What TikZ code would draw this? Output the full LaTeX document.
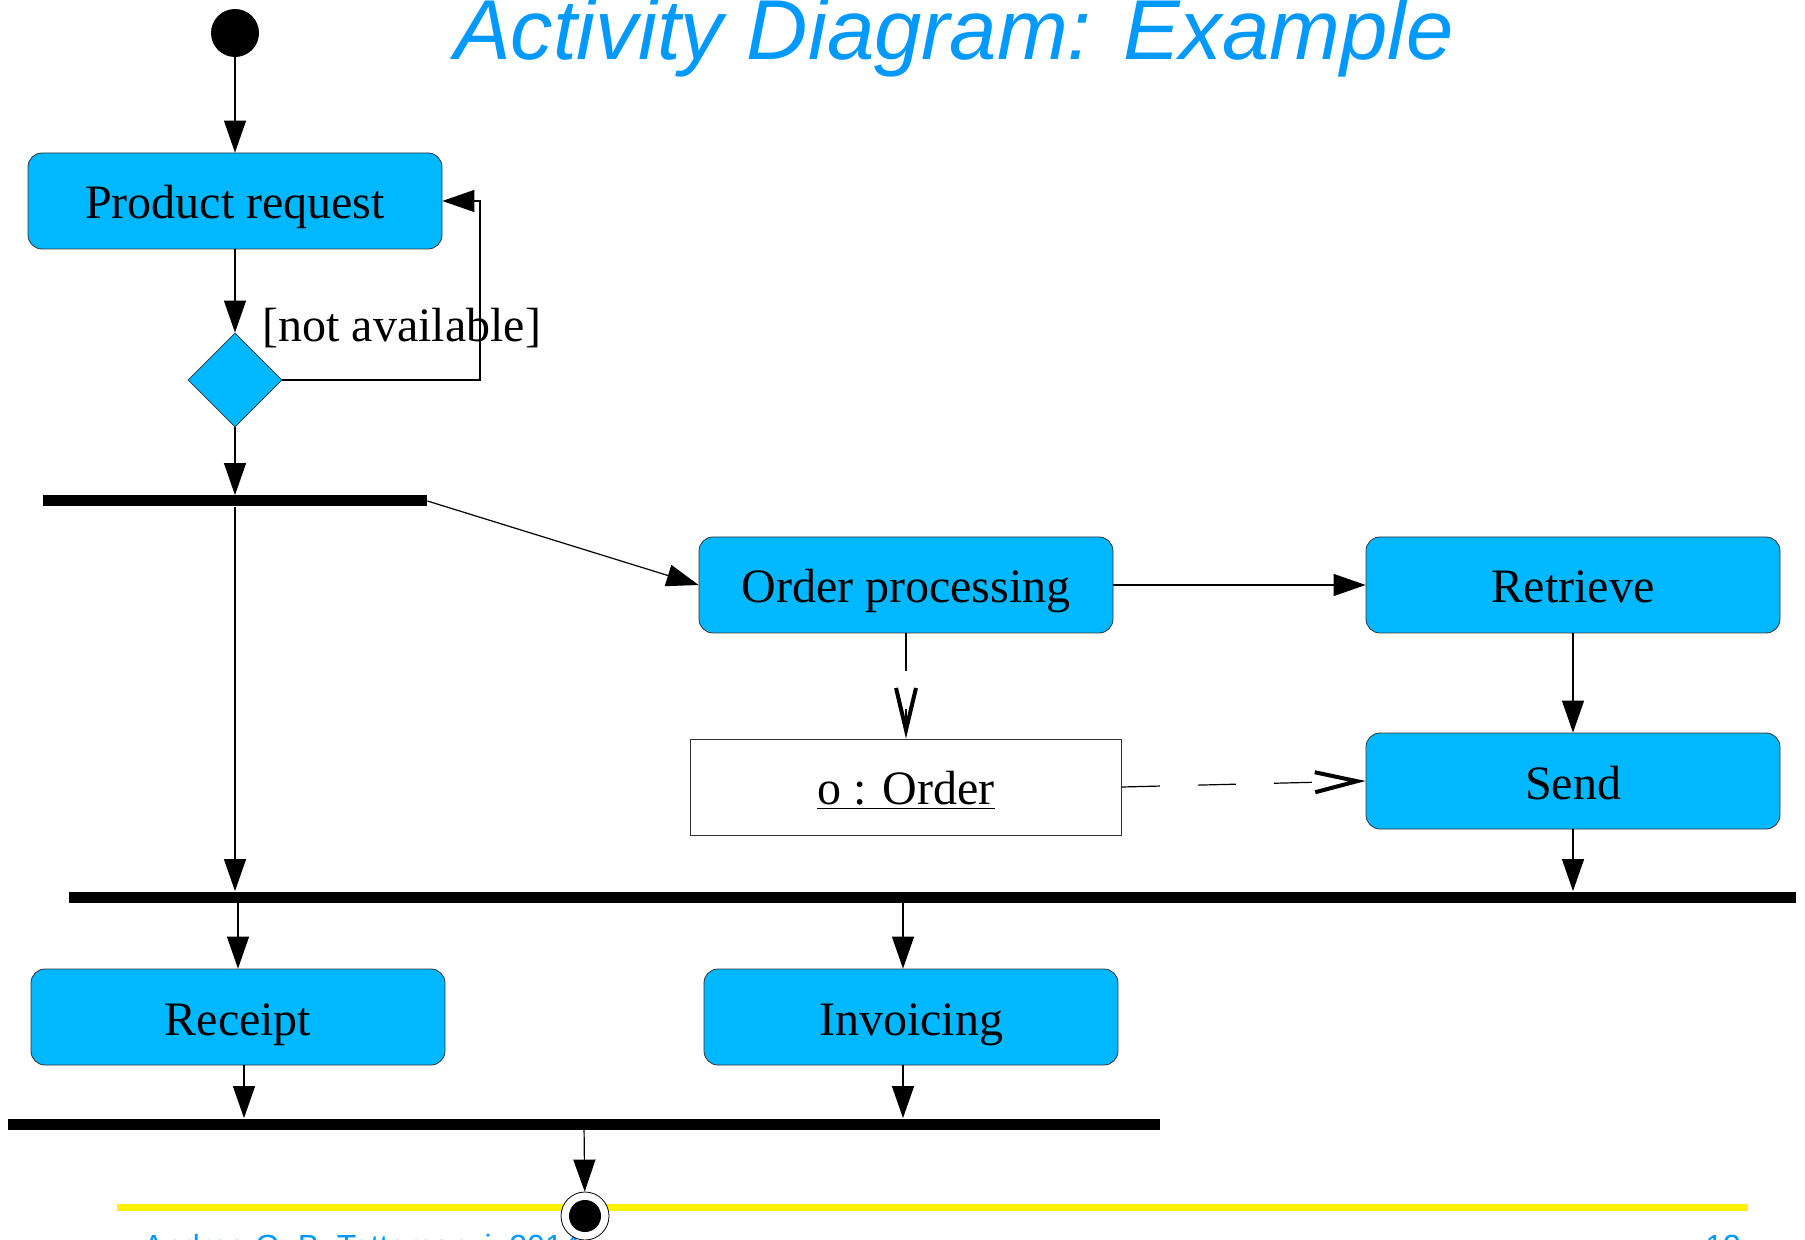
\documentclass[tikz,border=0pt]{standalone}
\usepackage{xcolor}
\usepackage{fontspec}
\setmainfont{Liberation Serif}
\newfontfamily\slidefont{Liberation Sans}
\definecolor{actblue}{RGB}{0,184,255}
\definecolor{slideblue}{RGB}{0,153,255}
\usepackage{tikz}
\usetikzlibrary{shapes.geometric}
\usetikzlibrary{arrows.meta}
\tikzset{
  activity/.style={draw=black!80,fill=actblue,rounded corners=7pt,minimum width=207pt,minimum height=48pt,text height=18pt,text depth=0pt,font=\fontsize{24}{28}\selectfont},
  objnode/.style={draw=black!80,fill=white,minimum width=215.5pt,minimum height=48pt,text height=18pt,text depth=0pt,font=\fontsize{24}{28}\selectfont},
  syncbar/.style={fill=black,inner sep=0pt,minimum height=5.5pt},
  flow/.style={line width=0.6pt,-{Triangle[length=16pt,width=11pt]}},
  objflow/.style={line width=0.6pt,dash pattern=on 19pt off 19pt,-{Straight Barb[length=21pt,width=10pt,line width=2pt]}}
}

\begin{document}
\begin{tikzpicture}[x=0.5pt,y=-0.5pt]
\useasboundingbox (0,0) rectangle (1805,1240);
\clip (0,0) rectangle (1805,1240);
\node (title) at (954,60) [anchor=base,text=slideblue,font=\slidefont\itshape\fontsize{42.5}{50}\selectfont]{Activity Diagram: Example};
\draw[yellow,line width=3.5pt] (117,1207) -- (1748,1207);
\node (author) at (136,1257) [anchor=base west,text=slideblue,font=\slidefont\fontsize{16}{19}\selectfont]{Andrea G. B. Tettamanzi, 2014};
\node (pagenum) at (1748,1257) [anchor=base east,text=slideblue,font=\slidefont\fontsize{16}{19}\selectfont]{13};

\node (start) at (235,33) [circle,fill=black,minimum size=24pt,inner sep=0pt]{};
\node (prodreq) at (235,201) [activity]{Product request};
\node (check) at (235,380) [diamond,draw=black!80,fill=actblue,minimum width=47pt,minimum height=47pt,inner sep=0pt]{};
\node (guard) at (262,342) [anchor=base west,inner sep=0pt,font=\fontsize{24}{28}\selectfont]{[not available]};
\coordinate (loop) at (480,201);
\node (fork1) at (235,501) [syncbar,minimum width=192pt]{};
\node (orderproc) at (906,585) [activity]{Order processing};
\node (retrieve) at (1573,585) [activity]{Retrieve};
\node (order) at (906,787) [objnode]{\underline{o : Order}};
\node (send) at (1573,781) [activity]{Send};
\node (fork2) at (932,897) [syncbar,minimum width=863.5pt]{};
\node (receipt) at (238,1017) [activity]{Receipt};
\node (invoicing) at (911,1017) [activity]{Invoicing};
\node (join) at (584,1124) [syncbar,minimum width=576pt]{};
\node (final) at (585,1216) [circle,draw,fill=white,minimum size=24pt,inner sep=0pt]{};
\node (finaldot) at (final) [circle,fill=black,minimum size=16pt,inner sep=0pt]{};

\draw[flow] (start) -- (prodreq);
\draw[flow] (prodreq) -- (check);
\draw[flow] (check.east) -| (loop) -- (prodreq.east);
\draw[flow] (check) -- (fork1);
\draw[flow] (fork1.east) -- (orderproc.west);
\draw[flow] (fork1.south) -- (fork1.south |- fork2.north);
\draw[flow] (orderproc) -- (retrieve);
\draw[flow] (retrieve) -- (send);
\draw[objflow] (orderproc) -- (order);
\draw[objflow] (order.east) -- (send.west);
\draw[flow] (send.south) -- (send.south |- fork2.north);
\draw[flow] (receipt.north |- fork2.south) -- (receipt.north);
\draw[flow] ([xshift=-4pt]invoicing.north |- fork2.south) -- ([xshift=-4pt]invoicing.north);
\draw[flow] ([xshift=3pt]receipt.south) -- ([xshift=3pt]receipt.south |- join.north);
\draw[flow] ([xshift=-4pt]invoicing.south) -- ([xshift=-4pt]invoicing.south |- join.north);
\draw[flow] (join) -- (final);
\end{tikzpicture}
\end{document}
